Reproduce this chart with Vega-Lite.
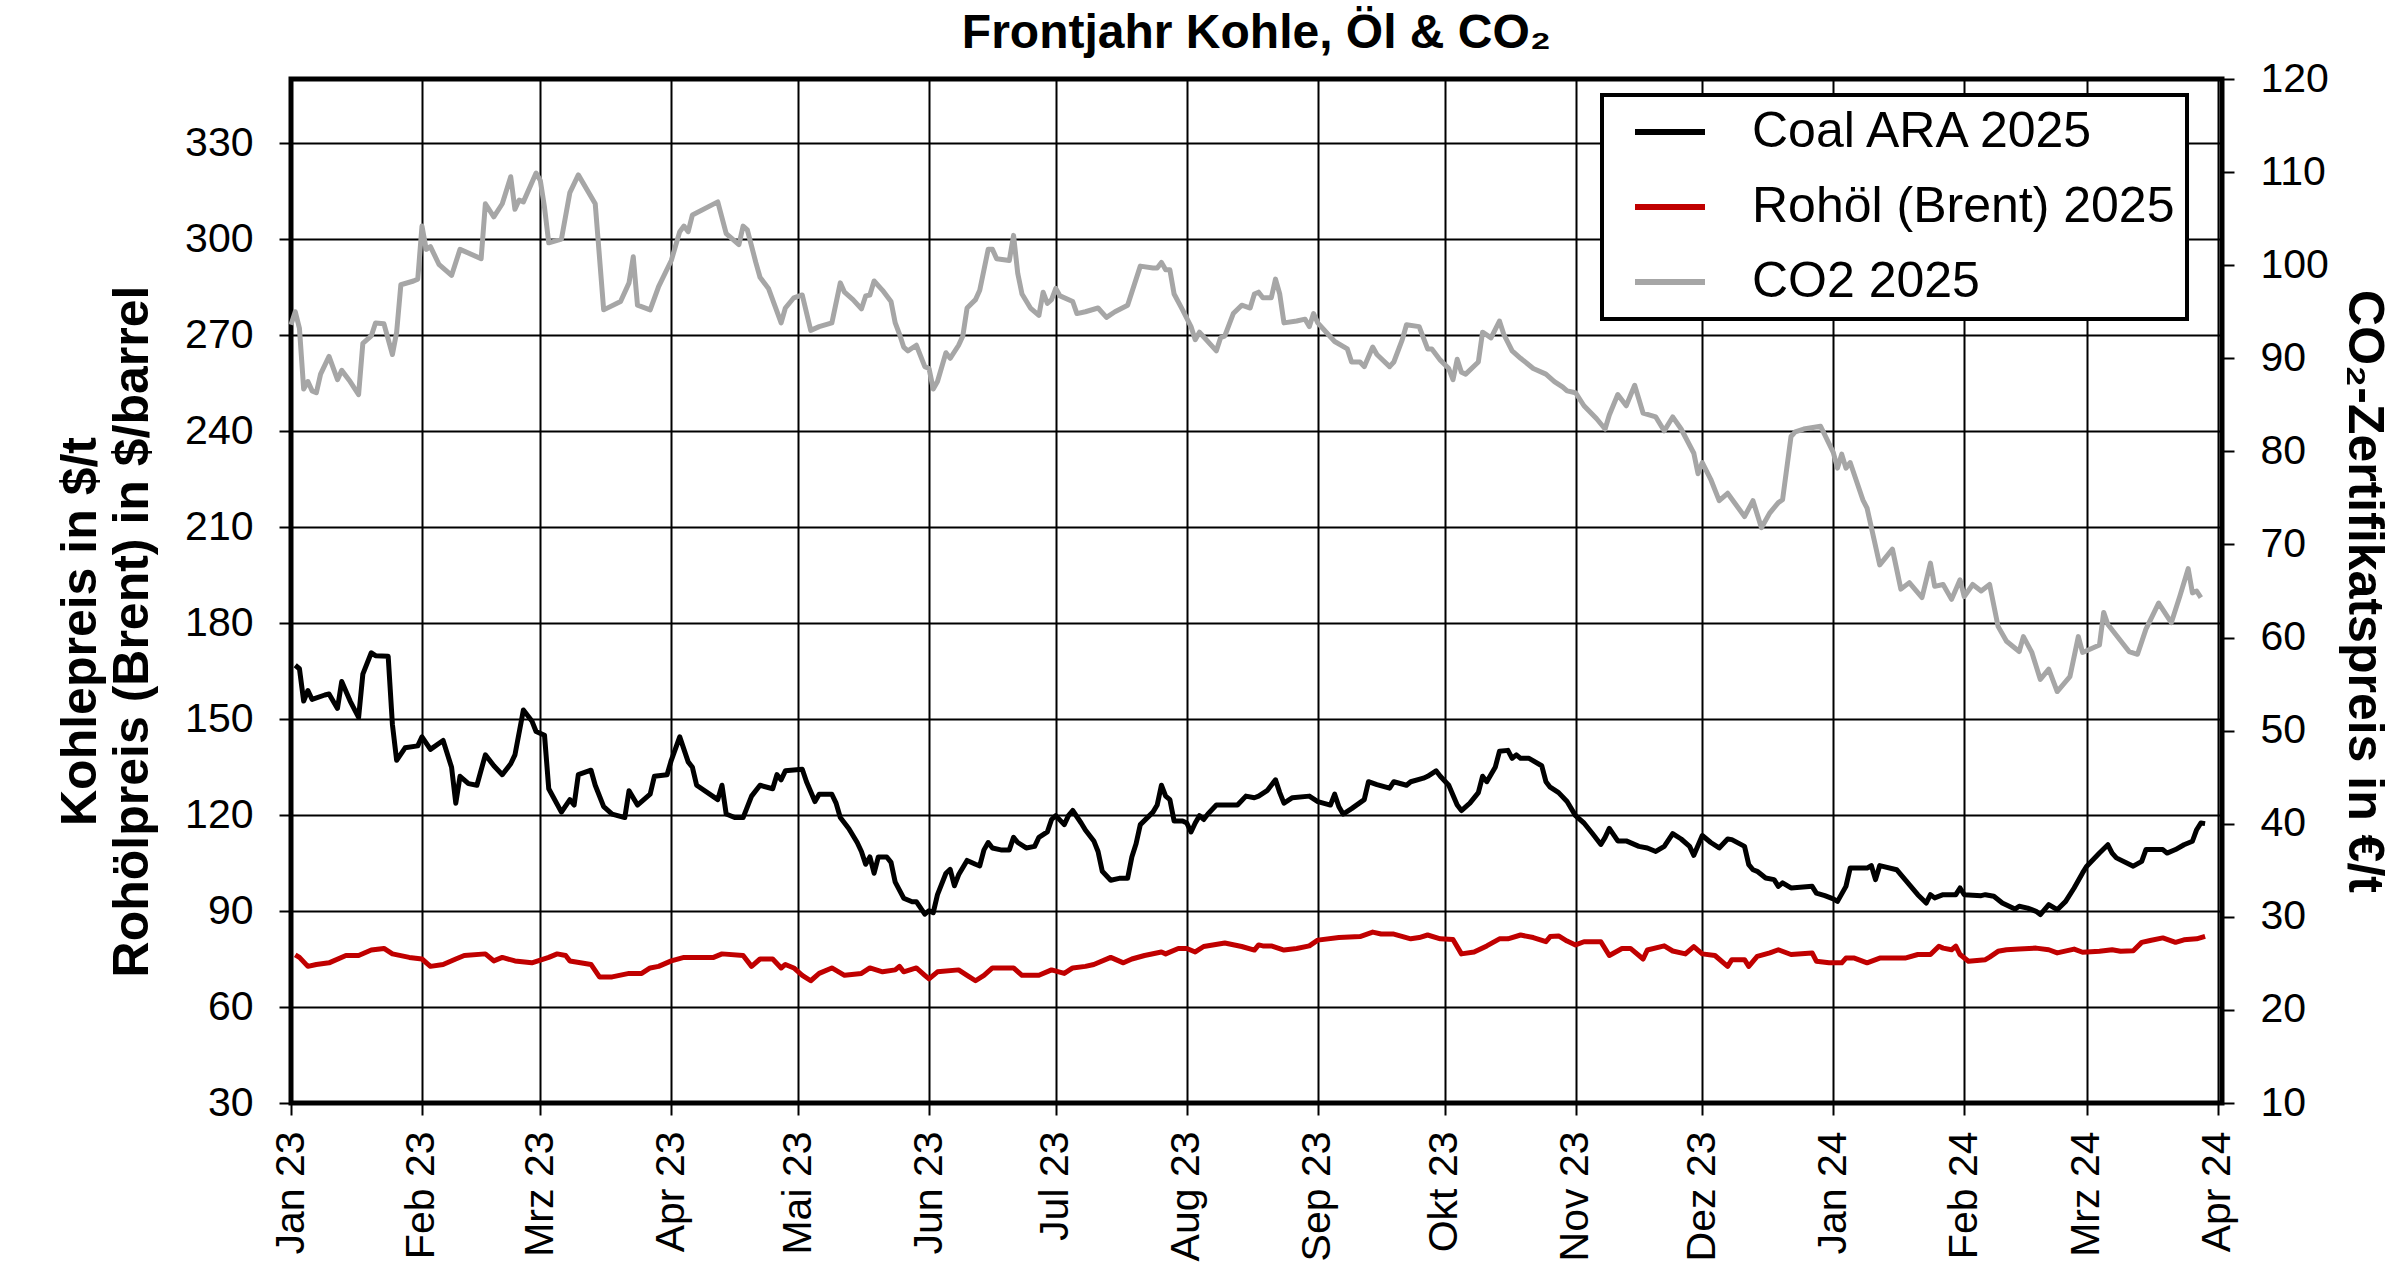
{
  "$schema": "https://vega.github.io/schema/vega-lite/v6.json",
  "autosize": {"type": "none"},
  "width": 1931,
  "height": 1024,
  "padding": {"left": 291, "top": 79, "right": 178, "bottom": 176},
  "background": "white",
  "title": {
    "text": "Frontjahr Kohle, Öl & CO₂",
    "font": "Liberation Sans",
    "fontSize": 48,
    "fontWeight": "bold",
    "color": "black",
    "anchor": "middle",
    "frame": "group",
    "offset": 0
  },
  "datasets": {
    "kohle": [
      {"d":"2023-01-02","v":166.8},{"d":"2023-01-03","v":165.7},{"d":"2023-01-04","v":155.6},{"d":"2023-01-05","v":158.9},{"d":"2023-01-06","v":156.1},{"d":"2023-01-09","v":157.5},{"d":"2023-01-10","v":157.8},{"d":"2023-01-12","v":153.3},{"d":"2023-01-13","v":161.7},{"d":"2023-01-15","v":155.6},{"d":"2023-01-17","v":150.5},{"d":"2023-01-18","v":164.0},{"d":"2023-01-20","v":170.7},{"d":"2023-01-21","v":169.8},{"d":"2023-01-24","v":169.6},{"d":"2023-01-25","v":148.3},{"d":"2023-01-26","v":137.1},{"d":"2023-01-28","v":141.0},{"d":"2023-01-31","v":141.6},
      {"d":"2023-02-01","v":144.4},{"d":"2023-02-03","v":140.5},{"d":"2023-02-06","v":143.3},{"d":"2023-02-08","v":134.9},{"d":"2023-02-09","v":123.7},{"d":"2023-02-10","v":132.1},{"d":"2023-02-12","v":129.8},{"d":"2023-02-14","v":129.3},{"d":"2023-02-16","v":138.8},{"d":"2023-02-18","v":135.4},{"d":"2023-02-20","v":132.6},{"d":"2023-02-22","v":136.0},{"d":"2023-02-23","v":138.8},{"d":"2023-02-25","v":152.8},{"d":"2023-02-27","v":149.4},{"d":"2023-02-28","v":146.1},
      {"d":"2023-03-02","v":144.9},{"d":"2023-03-03","v":128.2},{"d":"2023-03-06","v":120.9},{"d":"2023-03-08","v":124.8},{"d":"2023-03-09","v":123.1},{"d":"2023-03-10","v":132.6},{"d":"2023-03-13","v":134.0},{"d":"2023-03-14","v":129.3},{"d":"2023-03-16","v":122.6},{"d":"2023-03-18","v":120.3},{"d":"2023-03-21","v":119.2},{"d":"2023-03-22","v":127.6},{"d":"2023-03-24","v":123.1},{"d":"2023-03-27","v":126.5},{"d":"2023-03-28","v":132.1},{"d":"2023-03-31","v":132.6},
      {"d":"2023-04-01","v":137.1},{"d":"2023-04-03","v":144.4},{"d":"2023-04-05","v":136.6},{"d":"2023-04-06","v":134.9},{"d":"2023-04-07","v":129.3},{"d":"2023-04-12","v":124.8},{"d":"2023-04-13","v":129.3},{"d":"2023-04-14","v":120.3},{"d":"2023-04-16","v":119.2},{"d":"2023-04-18","v":119.2},{"d":"2023-04-20","v":125.9},{"d":"2023-04-22","v":129.3},{"d":"2023-04-25","v":128.2},{"d":"2023-04-26","v":132.6},{"d":"2023-04-27","v":131.0},{"d":"2023-04-28","v":133.8},
      {"d":"2023-05-02","v":134.3},{"d":"2023-05-03","v":130.4},{"d":"2023-05-05","v":124.2},{"d":"2023-05-06","v":126.5},{"d":"2023-05-09","v":126.5},{"d":"2023-05-10","v":123.7},{"d":"2023-05-11","v":119.2},{"d":"2023-05-13","v":115.8},{"d":"2023-05-15","v":111.4},{"d":"2023-05-16","v":108.6},{"d":"2023-05-17","v":104.6},{"d":"2023-05-18","v":106.9},{"d":"2023-05-19","v":101.8},{"d":"2023-05-20","v":106.9},{"d":"2023-05-22","v":106.9},{"d":"2023-05-23","v":105.2},{"d":"2023-05-24","v":99.0},{"d":"2023-05-26","v":94.0},{"d":"2023-05-28","v":92.9},{"d":"2023-05-29","v":92.9},{"d":"2023-05-31","v":89.0},
      {"d":"2023-06-01","v":90.1},{"d":"2023-06-02","v":89.5},{"d":"2023-06-03","v":95.1},{"d":"2023-06-05","v":101.8},{"d":"2023-06-06","v":103.0},{"d":"2023-06-07","v":97.9},{"d":"2023-06-08","v":101.3},{"d":"2023-06-10","v":105.8},{"d":"2023-06-12","v":104.6},{"d":"2023-06-13","v":104.1},{"d":"2023-06-14","v":109.1},{"d":"2023-06-15","v":111.4},{"d":"2023-06-16","v":109.7},{"d":"2023-06-18","v":109.1},{"d":"2023-06-20","v":109.1},{"d":"2023-06-21","v":113.0},{"d":"2023-06-22","v":111.4},{"d":"2023-06-24","v":109.7},{"d":"2023-06-26","v":110.2},{"d":"2023-06-27","v":113.0},{"d":"2023-06-29","v":114.7},{"d":"2023-06-30","v":118.6},
      {"d":"2023-07-01","v":119.8},{"d":"2023-07-03","v":117.0},{"d":"2023-07-04","v":119.8},{"d":"2023-07-05","v":121.4},{"d":"2023-07-07","v":117.5},{"d":"2023-07-08","v":115.3},{"d":"2023-07-10","v":111.9},{"d":"2023-07-11","v":108.6},{"d":"2023-07-12","v":102.4},{"d":"2023-07-14","v":99.6},{"d":"2023-07-16","v":100.2},{"d":"2023-07-18","v":100.2},{"d":"2023-07-19","v":106.9},{"d":"2023-07-20","v":111.0},{"d":"2023-07-21","v":117.0},{"d":"2023-07-24","v":120.9},{"d":"2023-07-25","v":123.1},{"d":"2023-07-26","v":129.3},{"d":"2023-07-27","v":125.9},{"d":"2023-07-28","v":124.8},{"d":"2023-07-29","v":118.1},{"d":"2023-07-31","v":118.1},
      {"d":"2023-08-01","v":117.5},{"d":"2023-08-02","v":114.7},{"d":"2023-08-03","v":117.5},{"d":"2023-08-04","v":119.8},{"d":"2023-08-05","v":118.6},{"d":"2023-08-06","v":120.3},{"d":"2023-08-08","v":123.1},{"d":"2023-08-13","v":123.1},{"d":"2023-08-15","v":125.9},{"d":"2023-08-17","v":125.4},{"d":"2023-08-18","v":125.9},{"d":"2023-08-20","v":127.6},{"d":"2023-08-22","v":131.0},{"d":"2023-08-23","v":127.0},{"d":"2023-08-24","v":123.7},{"d":"2023-08-26","v":125.4},{"d":"2023-08-30","v":125.9},
      {"d":"2023-09-01","v":124.2},{"d":"2023-09-04","v":123.1},{"d":"2023-09-05","v":126.5},{"d":"2023-09-06","v":122.6},{"d":"2023-09-07","v":120.3},{"d":"2023-09-09","v":122.0},{"d":"2023-09-12","v":124.8},{"d":"2023-09-13","v":130.4},{"d":"2023-09-15","v":129.5},{"d":"2023-09-18","v":128.4},{"d":"2023-09-19","v":130.4},{"d":"2023-09-22","v":129.3},{"d":"2023-09-23","v":130.4},{"d":"2023-09-26","v":131.5},{"d":"2023-09-27","v":132.1},{"d":"2023-09-29","v":133.8},{"d":"2023-09-30","v":132.1},
      {"d":"2023-10-02","v":129.3},{"d":"2023-10-04","v":123.1},{"d":"2023-10-05","v":121.4},{"d":"2023-10-07","v":123.7},{"d":"2023-10-09","v":127.0},{"d":"2023-10-10","v":132.1},{"d":"2023-10-11","v":130.4},{"d":"2023-10-13","v":134.9},{"d":"2023-10-14","v":139.9},{"d":"2023-10-16","v":140.2},{"d":"2023-10-17","v":137.7},{"d":"2023-10-18","v":138.8},{"d":"2023-10-19","v":137.7},{"d":"2023-10-21","v":137.7},{"d":"2023-10-24","v":135.4},{"d":"2023-10-25","v":130.4},{"d":"2023-10-26","v":128.7},{"d":"2023-10-28","v":127.0},{"d":"2023-10-30","v":124.2},
      {"d":"2023-11-01","v":119.8},{"d":"2023-11-03","v":117.5},{"d":"2023-11-05","v":114.2},{"d":"2023-11-07","v":110.8},{"d":"2023-11-08","v":113.0},{"d":"2023-11-09","v":115.8},{"d":"2023-11-11","v":111.9},{"d":"2023-11-13","v":111.9},{"d":"2023-11-16","v":110.2},{"d":"2023-11-18","v":109.7},{"d":"2023-11-20","v":108.6},{"d":"2023-11-22","v":110.2},{"d":"2023-11-24","v":114.2},{"d":"2023-11-26","v":112.5},{"d":"2023-11-28","v":110.2},{"d":"2023-11-29","v":107.4},
      {"d":"2023-12-01","v":113.6},{"d":"2023-12-03","v":111.4},{"d":"2023-12-05","v":109.7},{"d":"2023-12-07","v":112.5},{"d":"2023-12-08","v":112.3},{"d":"2023-12-11","v":110.2},{"d":"2023-12-12","v":104.5},{"d":"2023-12-13","v":102.9},{"d":"2023-12-14","v":102.4},{"d":"2023-12-16","v":100.3},{"d":"2023-12-18","v":99.8},{"d":"2023-12-19","v":97.7},{"d":"2023-12-20","v":98.8},{"d":"2023-12-22","v":97.2},{"d":"2023-12-27","v":97.7},{"d":"2023-12-28","v":95.6},{"d":"2023-12-30","v":94.8},
      {"d":"2024-01-01","v":93.8},{"d":"2024-01-02","v":93.0},{"d":"2024-01-04","v":97.7},{"d":"2024-01-05","v":103.4},{"d":"2024-01-09","v":103.4},{"d":"2024-01-10","v":104.2},{"d":"2024-01-11","v":99.8},{"d":"2024-01-12","v":104.2},{"d":"2024-01-16","v":102.9},{"d":"2024-01-18","v":99.8},{"d":"2024-01-21","v":95.1},{"d":"2024-01-23","v":92.5},{"d":"2024-01-24","v":95.1},{"d":"2024-01-25","v":94.1},{"d":"2024-01-27","v":95.1},{"d":"2024-01-30","v":95.1},{"d":"2024-01-31","v":97.2},
      {"d":"2024-02-01","v":95.1},{"d":"2024-02-05","v":94.8},{"d":"2024-02-06","v":95.1},{"d":"2024-02-08","v":94.6},{"d":"2024-02-10","v":92.5},{"d":"2024-02-13","v":90.6},{"d":"2024-02-14","v":91.5},{"d":"2024-02-16","v":90.9},{"d":"2024-02-18","v":89.9},{"d":"2024-02-19","v":88.9},{"d":"2024-02-21","v":92.0},{"d":"2024-02-23","v":90.4},{"d":"2024-02-25","v":93.0},{"d":"2024-02-27","v":97.2},{"d":"2024-02-29","v":101.9},
      {"d":"2024-03-01","v":104.0},{"d":"2024-03-04","v":108.1},{"d":"2024-03-06","v":110.7},{"d":"2024-03-07","v":108.1},{"d":"2024-03-08","v":106.6},{"d":"2024-03-12","v":104.0},{"d":"2024-03-14","v":105.5},{"d":"2024-03-15","v":109.2},{"d":"2024-03-19","v":109.2},{"d":"2024-03-20","v":108.1},{"d":"2024-03-22","v":109.2},{"d":"2024-03-24","v":110.7},{"d":"2024-03-26","v":111.8},{"d":"2024-03-27","v":115.4},{"d":"2024-03-28","v":117.5},{"d":"2024-03-29","v":117.3}
    ],
    "oel": [
      {"d":"2023-01-02","v":76.3},{"d":"2023-01-03","v":75.5},{"d":"2023-01-05","v":72.7},{"d":"2023-01-07","v":73.3},{"d":"2023-01-10","v":73.8},{"d":"2023-01-14","v":76.1},{"d":"2023-01-17","v":76.1},{"d":"2023-01-20","v":77.8},{"d":"2023-01-23","v":78.3},{"d":"2023-01-25","v":76.6},{"d":"2023-01-29","v":75.5},
      {"d":"2023-02-01","v":75.0},{"d":"2023-02-03","v":72.7},{"d":"2023-02-06","v":73.3},{"d":"2023-02-09","v":75.0},{"d":"2023-02-11","v":76.1},{"d":"2023-02-16","v":76.6},{"d":"2023-02-18","v":74.4},{"d":"2023-02-20","v":75.5},{"d":"2023-02-23","v":74.4},{"d":"2023-02-27","v":73.8},
      {"d":"2023-03-03","v":75.5},{"d":"2023-03-05","v":76.6},{"d":"2023-03-07","v":76.1},{"d":"2023-03-08","v":74.4},{"d":"2023-03-13","v":73.3},{"d":"2023-03-15","v":69.4},{"d":"2023-03-18","v":69.4},{"d":"2023-03-22","v":70.5},{"d":"2023-03-25","v":70.5},{"d":"2023-03-27","v":72.2},{"d":"2023-03-29","v":72.7},
      {"d":"2023-04-01","v":74.4},{"d":"2023-04-04","v":75.5},{"d":"2023-04-11","v":75.5},{"d":"2023-04-13","v":76.6},{"d":"2023-04-18","v":76.1},{"d":"2023-04-20","v":72.7},{"d":"2023-04-22","v":75.0},{"d":"2023-04-25","v":75.0},{"d":"2023-04-27","v":72.2},{"d":"2023-04-28","v":73.3},{"d":"2023-04-30","v":72.2},
      {"d":"2023-05-02","v":69.9},{"d":"2023-05-04","v":68.2},{"d":"2023-05-06","v":70.5},{"d":"2023-05-09","v":72.2},{"d":"2023-05-12","v":69.9},{"d":"2023-05-16","v":70.5},{"d":"2023-05-18","v":72.2},{"d":"2023-05-21","v":71.0},{"d":"2023-05-24","v":71.6},{"d":"2023-05-25","v":72.7},{"d":"2023-05-26","v":71.0},{"d":"2023-05-29","v":72.2},{"d":"2023-05-31","v":69.9},
      {"d":"2023-06-01","v":68.8},{"d":"2023-06-03","v":71.0},{"d":"2023-06-08","v":71.6},{"d":"2023-06-10","v":69.9},{"d":"2023-06-12","v":68.2},{"d":"2023-06-14","v":69.9},{"d":"2023-06-16","v":72.2},{"d":"2023-06-21","v":72.2},{"d":"2023-06-23","v":69.9},{"d":"2023-06-27","v":69.9},{"d":"2023-06-30","v":71.6},
      {"d":"2023-07-03","v":70.5},{"d":"2023-07-05","v":72.2},{"d":"2023-07-08","v":72.7},{"d":"2023-07-10","v":73.3},{"d":"2023-07-14","v":75.5},{"d":"2023-07-17","v":73.8},{"d":"2023-07-19","v":75.0},{"d":"2023-07-22","v":76.1},{"d":"2023-07-26","v":77.2},{"d":"2023-07-27","v":76.6},{"d":"2023-07-30","v":78.3},
      {"d":"2023-08-01","v":78.3},{"d":"2023-08-03","v":77.2},{"d":"2023-08-05","v":78.9},{"d":"2023-08-10","v":80.0},{"d":"2023-08-14","v":78.9},{"d":"2023-08-17","v":77.8},{"d":"2023-08-18","v":79.4},{"d":"2023-08-19","v":79.1},{"d":"2023-08-21","v":79.1},{"d":"2023-08-24","v":77.8},{"d":"2023-08-27","v":78.3},{"d":"2023-08-30","v":79.1},
      {"d":"2023-09-01","v":80.9},{"d":"2023-09-06","v":81.7},{"d":"2023-09-11","v":82.0},{"d":"2023-09-14","v":83.4},{"d":"2023-09-16","v":82.8},{"d":"2023-09-19","v":82.8},{"d":"2023-09-23","v":81.3},{"d":"2023-09-25","v":81.7},{"d":"2023-09-27","v":82.5},{"d":"2023-09-30","v":81.3},
      {"d":"2023-10-03","v":81.1},{"d":"2023-10-05","v":76.6},{"d":"2023-10-08","v":77.2},{"d":"2023-10-11","v":79.1},{"d":"2023-10-14","v":81.3},{"d":"2023-10-16","v":81.3},{"d":"2023-10-19","v":82.5},{"d":"2023-10-22","v":81.7},{"d":"2023-10-25","v":80.4},{"d":"2023-10-26","v":82.0},{"d":"2023-10-28","v":82.2},{"d":"2023-10-30","v":80.6},
      {"d":"2023-11-01","v":79.4},{"d":"2023-11-03","v":80.4},{"d":"2023-11-07","v":80.4},{"d":"2023-11-09","v":76.1},{"d":"2023-11-12","v":78.3},{"d":"2023-11-14","v":78.3},{"d":"2023-11-17","v":75.0},{"d":"2023-11-18","v":77.8},{"d":"2023-11-22","v":79.1},{"d":"2023-11-24","v":77.5},{"d":"2023-11-27","v":76.6},{"d":"2023-11-29","v":78.9},
      {"d":"2023-12-01","v":76.6},{"d":"2023-12-04","v":76.1},{"d":"2023-12-07","v":72.7},{"d":"2023-12-08","v":74.8},{"d":"2023-12-11","v":74.8},{"d":"2023-12-12","v":72.7},{"d":"2023-12-14","v":75.8},{"d":"2023-12-17","v":76.9},{"d":"2023-12-19","v":77.9},{"d":"2023-12-22","v":76.4},{"d":"2023-12-27","v":76.9},{"d":"2023-12-28","v":74.3},{"d":"2023-12-31","v":73.8},
      {"d":"2024-01-03","v":73.8},{"d":"2024-01-04","v":75.3},{"d":"2024-01-06","v":75.3},{"d":"2024-01-09","v":73.8},{"d":"2024-01-12","v":75.3},{"d":"2024-01-15","v":75.3},{"d":"2024-01-18","v":75.3},{"d":"2024-01-21","v":76.4},{"d":"2024-01-24","v":76.4},{"d":"2024-01-26","v":79.0},{"d":"2024-01-27","v":78.4},{"d":"2024-01-29","v":77.9},{"d":"2024-01-30","v":79.0},{"d":"2024-01-31","v":76.4},
      {"d":"2024-02-02","v":74.3},{"d":"2024-02-06","v":74.8},{"d":"2024-02-07","v":75.6},{"d":"2024-02-09","v":77.4},{"d":"2024-02-11","v":77.9},{"d":"2024-02-14","v":78.1},{"d":"2024-02-18","v":78.4},{"d":"2024-02-21","v":77.9},{"d":"2024-02-23","v":76.9},{"d":"2024-02-27","v":78.1},{"d":"2024-02-29","v":77.1},
      {"d":"2024-03-04","v":77.4},{"d":"2024-03-07","v":77.9},{"d":"2024-03-09","v":77.4},{"d":"2024-03-12","v":77.6},{"d":"2024-03-14","v":80.2},{"d":"2024-03-16","v":80.8},{"d":"2024-03-19","v":81.6},{"d":"2024-03-22","v":80.2},{"d":"2024-03-24","v":81.0},{"d":"2024-03-27","v":81.3},{"d":"2024-03-29","v":82.1}
    ],
    "co2": [
      {"d":"2023-01-01","v":93.6},{"d":"2023-01-02","v":95.0},{"d":"2023-01-03","v":93.2},{"d":"2023-01-04","v":86.7},{"d":"2023-01-05","v":87.5},{"d":"2023-01-06","v":86.5},{"d":"2023-01-07","v":86.3},{"d":"2023-01-08","v":88.3},{"d":"2023-01-10","v":90.2},{"d":"2023-01-12","v":87.7},{"d":"2023-01-13","v":88.7},{"d":"2023-01-15","v":87.5},{"d":"2023-01-17","v":86.1},{"d":"2023-01-18","v":91.6},{"d":"2023-01-20","v":92.4},{"d":"2023-01-21","v":93.8},{"d":"2023-01-23","v":93.7},{"d":"2023-01-25","v":90.4},{"d":"2023-01-26","v":92.8},{"d":"2023-01-27","v":97.9},{"d":"2023-01-30","v":98.3},{"d":"2023-01-31","v":98.5},
      {"d":"2023-02-01","v":104.2},{"d":"2023-02-02","v":101.7},{"d":"2023-02-03","v":102.0},{"d":"2023-02-05","v":100.1},{"d":"2023-02-08","v":98.9},{"d":"2023-02-10","v":101.7},{"d":"2023-02-15","v":100.7},{"d":"2023-02-16","v":106.6},{"d":"2023-02-18","v":105.2},{"d":"2023-02-20","v":106.6},{"d":"2023-02-22","v":109.5},{"d":"2023-02-23","v":106.0},{"d":"2023-02-24","v":107.0},{"d":"2023-02-25","v":106.8},{"d":"2023-02-28","v":109.9},
      {"d":"2023-03-01","v":109.1},{"d":"2023-03-02","v":106.2},{"d":"2023-03-03","v":102.4},{"d":"2023-03-06","v":102.8},{"d":"2023-03-08","v":107.8},{"d":"2023-03-10","v":109.7},{"d":"2023-03-14","v":106.6},{"d":"2023-03-16","v":95.2},{"d":"2023-03-20","v":96.1},{"d":"2023-03-22","v":98.1},{"d":"2023-03-23","v":100.9},{"d":"2023-03-24","v":95.7},{"d":"2023-03-27","v":95.2},{"d":"2023-03-29","v":97.7},
      {"d":"2023-04-01","v":100.5},{"d":"2023-04-03","v":103.6},{"d":"2023-04-04","v":104.2},{"d":"2023-04-05","v":103.6},{"d":"2023-04-06","v":105.4},{"d":"2023-04-12","v":106.8},{"d":"2023-04-14","v":103.4},{"d":"2023-04-17","v":102.2},{"d":"2023-04-18","v":104.2},{"d":"2023-04-19","v":103.8},{"d":"2023-04-21","v":100.3},{"d":"2023-04-22","v":98.7},{"d":"2023-04-24","v":97.5},{"d":"2023-04-27","v":93.8},{"d":"2023-04-28","v":95.4},{"d":"2023-04-30","v":96.5},
      {"d":"2023-05-02","v":96.8},{"d":"2023-05-04","v":93.0},{"d":"2023-05-06","v":93.4},{"d":"2023-05-09","v":93.8},{"d":"2023-05-11","v":98.1},{"d":"2023-05-12","v":97.1},{"d":"2023-05-14","v":96.3},{"d":"2023-05-16","v":95.3},{"d":"2023-05-17","v":96.7},{"d":"2023-05-18","v":96.8},{"d":"2023-05-19","v":98.3},{"d":"2023-05-21","v":97.3},{"d":"2023-05-23","v":96.1},{"d":"2023-05-24","v":93.8},{"d":"2023-05-25","v":92.6},{"d":"2023-05-26","v":91.2},{"d":"2023-05-27","v":90.8},{"d":"2023-05-29","v":91.4},{"d":"2023-05-31","v":89.1},
      {"d":"2023-06-01","v":88.9},{"d":"2023-06-02","v":86.7},{"d":"2023-06-03","v":87.5},{"d":"2023-06-05","v":90.6},{"d":"2023-06-06","v":90.0},{"d":"2023-06-08","v":91.4},{"d":"2023-06-09","v":92.4},{"d":"2023-06-10","v":95.4},{"d":"2023-06-12","v":96.3},{"d":"2023-06-13","v":97.3},{"d":"2023-06-15","v":101.7},{"d":"2023-06-16","v":101.7},{"d":"2023-06-17","v":100.7},{"d":"2023-06-20","v":100.5},{"d":"2023-06-21","v":103.2},{"d":"2023-06-22","v":99.1},{"d":"2023-06-23","v":96.9},{"d":"2023-06-25","v":95.4},{"d":"2023-06-27","v":94.6},{"d":"2023-06-28","v":97.1},{"d":"2023-06-29","v":95.9},{"d":"2023-06-30","v":96.3},
      {"d":"2023-07-01","v":97.5},{"d":"2023-07-02","v":96.7},{"d":"2023-07-05","v":96.1},{"d":"2023-07-06","v":94.8},{"d":"2023-07-08","v":95.0},{"d":"2023-07-11","v":95.4},{"d":"2023-07-13","v":94.4},{"d":"2023-07-15","v":95.0},{"d":"2023-07-18","v":95.7},{"d":"2023-07-21","v":99.9},{"d":"2023-07-24","v":99.7},{"d":"2023-07-25","v":99.7},{"d":"2023-07-26","v":100.3},{"d":"2023-07-27","v":99.5},{"d":"2023-07-28","v":99.5},{"d":"2023-07-29","v":96.9},{"d":"2023-07-31","v":95.2},
      {"d":"2023-08-02","v":93.4},{"d":"2023-08-03","v":92.0},{"d":"2023-08-04","v":92.8},{"d":"2023-08-08","v":90.8},{"d":"2023-08-09","v":92.2},{"d":"2023-08-10","v":92.4},{"d":"2023-08-12","v":94.8},{"d":"2023-08-14","v":95.7},{"d":"2023-08-16","v":95.4},{"d":"2023-08-17","v":96.9},{"d":"2023-08-18","v":97.1},{"d":"2023-08-19","v":96.5},{"d":"2023-08-21","v":96.5},{"d":"2023-08-22","v":98.5},{"d":"2023-08-23","v":96.9},{"d":"2023-08-24","v":93.8},{"d":"2023-08-27","v":94.0},{"d":"2023-08-29","v":94.2},{"d":"2023-08-30","v":93.4},{"d":"2023-08-31","v":94.8},
      {"d":"2023-09-01","v":93.8},{"d":"2023-09-03","v":92.8},{"d":"2023-09-05","v":91.8},{"d":"2023-09-08","v":91.0},{"d":"2023-09-09","v":89.6},{"d":"2023-09-11","v":89.6},{"d":"2023-09-12","v":89.1},{"d":"2023-09-14","v":91.2},{"d":"2023-09-15","v":90.4},{"d":"2023-09-18","v":89.1},{"d":"2023-09-19","v":89.6},{"d":"2023-09-21","v":92.0},{"d":"2023-09-22","v":93.6},{"d":"2023-09-25","v":93.4},{"d":"2023-09-27","v":91.0},{"d":"2023-09-28","v":91.0},{"d":"2023-09-30","v":89.8},
      {"d":"2023-10-02","v":88.9},{"d":"2023-10-03","v":87.7},{"d":"2023-10-04","v":89.9},{"d":"2023-10-05","v":88.5},{"d":"2023-10-06","v":88.3},{"d":"2023-10-09","v":89.6},{"d":"2023-10-10","v":92.8},{"d":"2023-10-12","v":92.2},{"d":"2023-10-14","v":94.0},{"d":"2023-10-15","v":92.6},{"d":"2023-10-17","v":90.8},{"d":"2023-10-19","v":90.0},{"d":"2023-10-22","v":88.9},{"d":"2023-10-25","v":88.3},{"d":"2023-10-27","v":87.5},{"d":"2023-10-29","v":86.9},{"d":"2023-10-30","v":86.5},
      {"d":"2023-11-01","v":86.3},{"d":"2023-11-03","v":84.9},{"d":"2023-11-06","v":83.5},{"d":"2023-11-08","v":82.4},{"d":"2023-11-09","v":83.9},{"d":"2023-11-11","v":86.1},{"d":"2023-11-13","v":84.9},{"d":"2023-11-15","v":87.1},{"d":"2023-11-17","v":84.1},{"d":"2023-11-20","v":83.7},{"d":"2023-11-22","v":82.2},{"d":"2023-11-24","v":83.7},{"d":"2023-11-26","v":82.4},{"d":"2023-11-29","v":79.8},{"d":"2023-11-30","v":77.6},
      {"d":"2023-12-01","v":78.8},{"d":"2023-12-03","v":77.0},{"d":"2023-12-05","v":74.7},{"d":"2023-12-07","v":75.5},{"d":"2023-12-11","v":73.0},{"d":"2023-12-13","v":74.7},{"d":"2023-12-15","v":71.8},{"d":"2023-12-17","v":73.4},{"d":"2023-12-19","v":74.5},{"d":"2023-12-20","v":74.8},{"d":"2023-12-22","v":81.6},{"d":"2023-12-23","v":82.1},{"d":"2023-12-25","v":82.4},{"d":"2023-12-29","v":82.7},
      {"d":"2024-01-01","v":79.9},{"d":"2024-01-02","v":78.2},{"d":"2024-01-03","v":79.7},{"d":"2024-01-04","v":78.2},{"d":"2024-01-05","v":78.8},{"d":"2024-01-08","v":74.8},{"d":"2024-01-09","v":73.9},{"d":"2024-01-12","v":67.8},{"d":"2024-01-15","v":69.5},{"d":"2024-01-17","v":65.2},{"d":"2024-01-19","v":65.9},{"d":"2024-01-22","v":64.3},{"d":"2024-01-24","v":68.0},{"d":"2024-01-25","v":65.5},{"d":"2024-01-27","v":65.7},{"d":"2024-01-29","v":64.1},{"d":"2024-01-31","v":66.2},
      {"d":"2024-02-01","v":64.4},{"d":"2024-02-03","v":65.7},{"d":"2024-02-05","v":65.0},{"d":"2024-02-07","v":65.7},{"d":"2024-02-09","v":61.2},{"d":"2024-02-11","v":59.6},{"d":"2024-02-14","v":58.5},{"d":"2024-02-15","v":60.1},{"d":"2024-02-17","v":58.4},{"d":"2024-02-19","v":55.5},{"d":"2024-02-21","v":56.6},{"d":"2024-02-23","v":54.2},{"d":"2024-02-26","v":55.8},{"d":"2024-02-28","v":60.1},{"d":"2024-02-29","v":58.4},
      {"d":"2024-03-04","v":59.2},{"d":"2024-03-05","v":62.7},{"d":"2024-03-06","v":61.4},{"d":"2024-03-11","v":58.5},{"d":"2024-03-13","v":58.2},{"d":"2024-03-15","v":60.9},{"d":"2024-03-18","v":63.7},{"d":"2024-03-21","v":61.6},{"d":"2024-03-23","v":64.4},{"d":"2024-03-25","v":67.4},{"d":"2024-03-26","v":64.8},{"d":"2024-03-27","v":65.0},{"d":"2024-03-28","v":64.3}
    ]
  },
  "encoding": {
    "x": {
      "field": "d",
      "type": "temporal",
      "scale": {
        "type": "utc",
        "domain": [{"year": 2023, "month": 1, "date": 1, "utc": true}, {"year": 2024, "month": 4, "date": 2, "utc": true}]
      },
      "axis": {
        "title": null,
        "grid": true,
        "labelAngle": 270,
        "labelPadding": 16,
        "labelFlush": false,
        "labelOverlap": false,
        "values": [
          {"year": 2023, "month": 1, "date": 1, "utc": true},
          {"year": 2023, "month": 2, "date": 1, "utc": true},
          {"year": 2023, "month": 3, "date": 1, "utc": true},
          {"year": 2023, "month": 4, "date": 1, "utc": true},
          {"year": 2023, "month": 5, "date": 1, "utc": true},
          {"year": 2023, "month": 6, "date": 1, "utc": true},
          {"year": 2023, "month": 7, "date": 1, "utc": true},
          {"year": 2023, "month": 8, "date": 1, "utc": true},
          {"year": 2023, "month": 9, "date": 1, "utc": true},
          {"year": 2023, "month": 10, "date": 1, "utc": true},
          {"year": 2023, "month": 11, "date": 1, "utc": true},
          {"year": 2023, "month": 12, "date": 1, "utc": true},
          {"year": 2024, "month": 1, "date": 1, "utc": true},
          {"year": 2024, "month": 2, "date": 1, "utc": true},
          {"year": 2024, "month": 3, "date": 1, "utc": true},
          {"year": 2024, "month": 4, "date": 1, "utc": true}
        ],
        "labelExpr": "['Jan','Feb','Mrz','Apr','Mai','Jun','Jul','Aug','Sep','Okt','Nov','Dez'][utcmonth(datum.value)] + ' ' + utcFormat(datum.value, '%y')"
      }
    }
  },
  "layer": [
    {
      "data": {"name": "kohle"},
      "mark": {"type": "line", "strokeWidth": 5, "strokeJoin": "round"},
      "encoding": {
        "y": {
          "field": "v",
          "type": "quantitative",
          "scale": {"domain": [30, 350], "nice": false, "zero": false},
          "axis": {
            "orient": "left",
            "values": [30, 60, 90, 120, 150, 180, 210, 240, 270, 300, 330],
            "grid": true,
            "labelPadding": 26,
            "labelFlush": false,
            "title": ["Kohlepreis in $/t", "Rohölpreis (Brent) in $/barrel"],
            "titleAngle": 270,
            "titleAlign": "center",
            "titleBaseline": "middle",
            "titleLineHeight": 52,
            "titleX": -211,
            "titleY": 552
          }
        },
        "color": {
          "datum": "Coal ARA 2025",
          "type": "nominal",
          "scale": {
            "domain": ["Coal ARA 2025", "Rohöl (Brent) 2025", "CO2 2025"],
            "range": ["#000000", "#C00000", "#A6A6A6"]
          },
          "legend": {"title": null}
        }
      }
    },
    {
      "data": {"name": "oel"},
      "mark": {"type": "line", "strokeWidth": 5, "strokeJoin": "round"},
      "encoding": {
        "y": {
          "field": "v",
          "type": "quantitative",
          "scale": {"domain": [30, 350], "nice": false, "zero": false},
          "axis": null
        },
        "color": {"datum": "Rohöl (Brent) 2025", "type": "nominal"}
      }
    },
    {
      "data": {"name": "co2"},
      "mark": {"type": "line", "strokeWidth": 5, "strokeJoin": "round"},
      "encoding": {
        "y": {
          "field": "v",
          "type": "quantitative",
          "scale": {"domain": [10, 120], "nice": false, "zero": false},
          "axis": {
            "orient": "right",
            "values": [10, 20, 30, 40, 50, 60, 70, 80, 90, 100, 110, 120],
            "grid": false,
            "labelPadding": 26,
            "labelFlush": false,
            "title": "CO₂-Zertifikatspreis in €/t",
            "titleAngle": 90,
            "titleAlign": "center",
            "titleBaseline": "middle",
            "titleX": 141,
            "titleY": 512
          }
        },
        "color": {"datum": "CO2 2025", "type": "nominal"}
      }
    }
  ],
  "resolve": {"scale": {"y": "independent"}, "axis": {"y": "independent"}},
  "config": {
    "font": "Liberation Sans",
    "view": {"stroke": "black", "strokeWidth": 5},
    "axis": {
      "labelFont": "Liberation Sans",
      "labelFontSize": 41,
      "labelColor": "black",
      "tickColor": "black",
      "tickWidth": 2,
      "tickSize": 12,
      "domain": false,
      "gridColor": "black",
      "gridWidth": 2,
      "gridOpacity": 1,
      "titleFont": "Liberation Sans",
      "titleFontSize": 50,
      "titleFontWeight": "bold",
      "titleColor": "black"
    },
    "legend": {
      "orient": "none",
      "legendX": 1311,
      "legendY": 16,
      "symbolType": "M-2,0H2",
      "symbolSize": 1225,
      "symbolStrokeWidth": 6,
      "symbolOffset": 31,
      "labelOffset": 57,
      "labelFont": "Liberation Sans",
      "labelFontSize": 50,
      "labelColor": "black",
      "labelLimit": 0,
      "padding": 12,
      "rowPadding": 25,
      "strokeColor": "black",
      "strokeWidth": 4,
      "fillColor": "white"
    }
  }
}
